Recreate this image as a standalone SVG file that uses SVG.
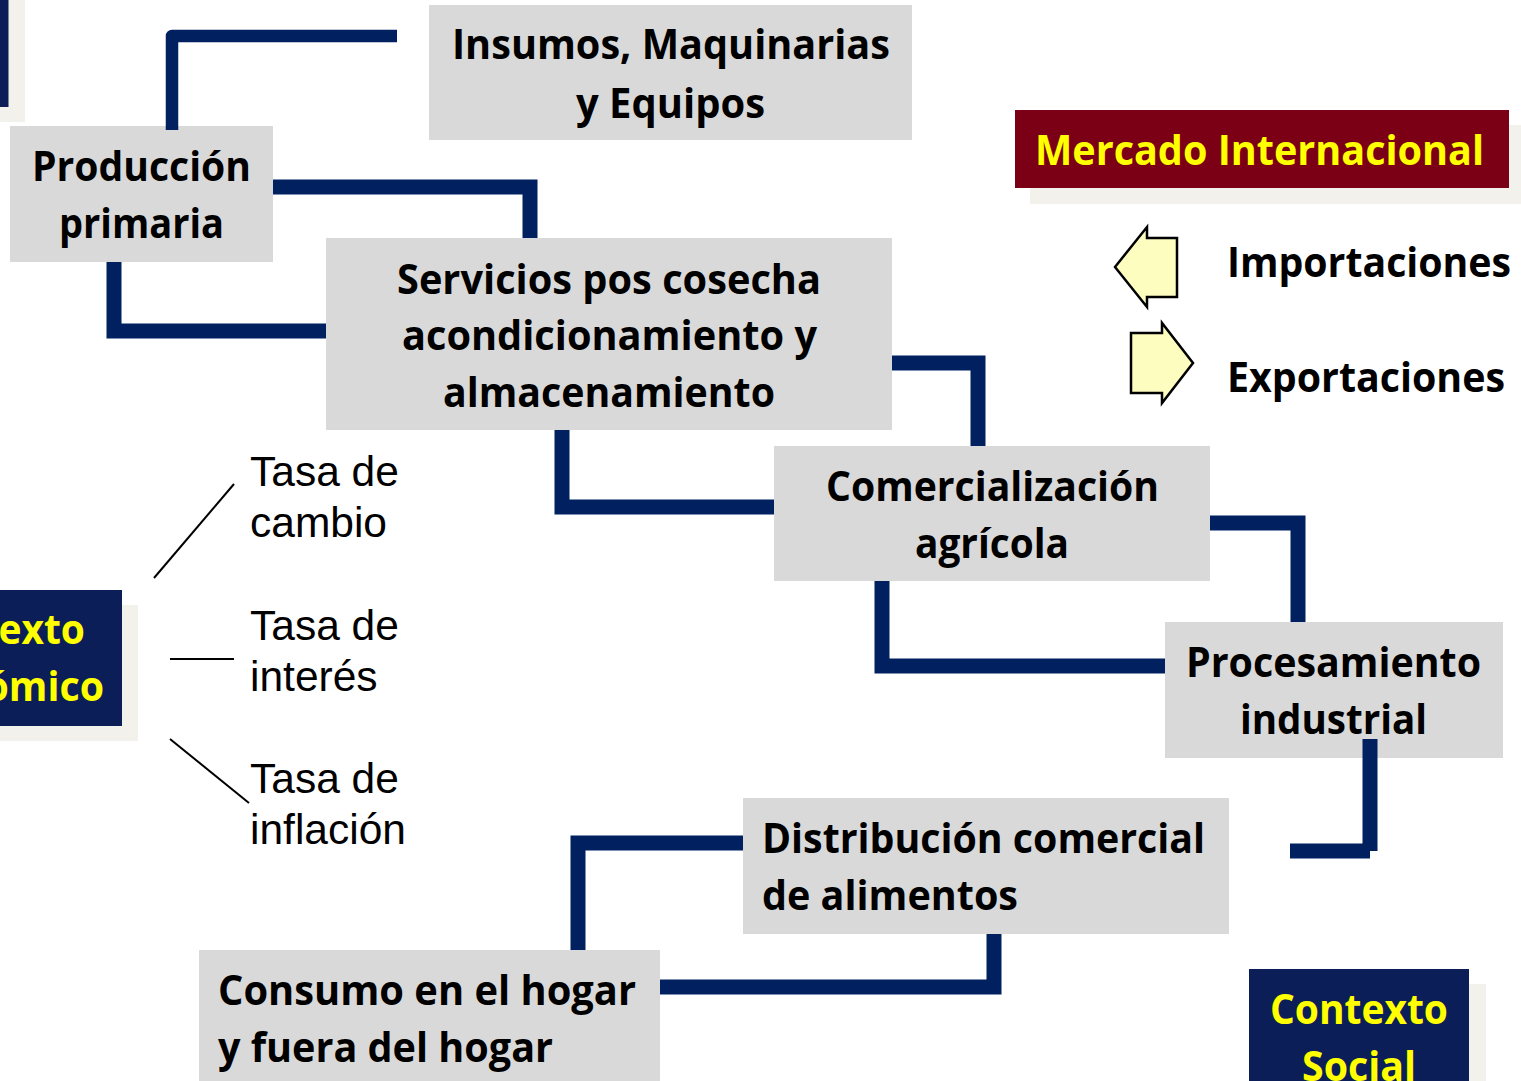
<svg xmlns="http://www.w3.org/2000/svg" width="1521" height="1081" viewBox="0 0 1521 1081">
<style>
.bg{fill:#ffffff}
.box{fill:#d9d9d9}
.navy{fill:#0b1e58}
.shadow{fill:#f2f1ec}
.red{fill:#7b0016}
.b{font-family:"Open Sans","Noto Sans",sans-serif;font-weight:700;font-size:41px;fill:#000}
.yl{fill:#ffff00}
.t{font-family:"Liberation Sans",Arial,sans-serif;font-size:42.5px;fill:#000}
.conn{fill:none;stroke:#002060;stroke-width:15;stroke-linecap:butt;stroke-linejoin:miter}
.thin{fill:none;stroke:#000;stroke-width:2}
.arrow{fill:#fdfdc0;stroke:#000;stroke-width:2.5;stroke-linejoin:miter}
</style>
<rect class="bg" x="0" y="0" width="1521" height="1081"/>

<g id="contexto-top">
  <rect class="shadow" x="-84" y="-5" width="109" height="127"/>
  <rect class="navy" x="-100" y="-20" width="108.5" height="127"/>
</g>

<g id="insumos">
  <rect class="box" x="429" y="5" width="483" height="135"/>
  <text class="b" x="452" y="59" textLength="438" lengthAdjust="spacingAndGlyphs">Insumos, Maquinarias</text>
  <text class="b" x="576" y="118" textLength="189" lengthAdjust="spacingAndGlyphs">y Equipos</text>
</g>

<g id="produccion">
  <rect class="box" x="10" y="126" width="263" height="136"/>
  <text class="b" x="32" y="181" textLength="219" lengthAdjust="spacingAndGlyphs">Producción</text>
  <text class="b" x="59" y="238" textLength="165" lengthAdjust="spacingAndGlyphs">primaria</text>
</g>

<g id="mercado">
  <rect class="shadow" x="1030" y="125" width="495" height="79"/>
  <rect class="red" x="1015" y="110" width="494" height="78"/>
  <text class="b yl" x="1035" y="165" textLength="449" lengthAdjust="spacingAndGlyphs">Mercado Internacional</text>
</g>

<g id="importaciones">
  <polygon class="arrow" points="1115,267 1147,227 1147,238 1177,238 1177,297 1147,297 1147,307"/>
  <text class="b" x="1227" y="277" textLength="284" lengthAdjust="spacingAndGlyphs">Importaciones</text>
</g>

<g id="exportaciones">
  <polygon class="arrow" points="1131,333 1162,333 1162,323 1193,363 1162,403 1162,393 1131,393"/>
  <text class="b" x="1227" y="392" textLength="278" lengthAdjust="spacingAndGlyphs">Exportaciones</text>
</g>

<g id="servicios">
  <rect class="box" x="326" y="238" width="566" height="192"/>
  <text class="b" x="397" y="294" textLength="424" lengthAdjust="spacingAndGlyphs">Servicios pos cosecha</text>
  <text class="b" x="402" y="350" textLength="415" lengthAdjust="spacingAndGlyphs">acondicionamiento y</text>
  <text class="b" x="443" y="407" textLength="332" lengthAdjust="spacingAndGlyphs">almacenamiento</text>
</g>

<g id="comercializacion">
  <rect class="box" x="774" y="446" width="436" height="135"/>
  <text class="b" x="826" y="501" textLength="333" lengthAdjust="spacingAndGlyphs">Comercialización</text>
  <text class="b" x="915" y="558" textLength="154" lengthAdjust="spacingAndGlyphs">agrícola</text>
</g>

<g id="procesamiento">
  <rect class="box" x="1165" y="622" width="338" height="136"/>
  <text class="b" x="1186" y="677" textLength="295" lengthAdjust="spacingAndGlyphs">Procesamiento</text>
  <text class="b" x="1240" y="734" textLength="187" lengthAdjust="spacingAndGlyphs">industrial</text>
</g>

<g id="distribucion">
  <rect class="box" x="743" y="798" width="486" height="136"/>
  <text class="b" x="762" y="853" textLength="443" lengthAdjust="spacingAndGlyphs">Distribución comercial</text>
  <text class="b" x="762" y="910" textLength="256" lengthAdjust="spacingAndGlyphs">de alimentos</text>
</g>

<g id="consumo">
  <rect class="box" x="199" y="950" width="461" height="140"/>
  <text class="b" x="218" y="1005" textLength="418" lengthAdjust="spacingAndGlyphs">Consumo en el hogar</text>
  <text class="b" x="218" y="1062" textLength="335" lengthAdjust="spacingAndGlyphs">y fuera del hogar</text>
</g>

<g id="contexto-economico">
  <rect class="shadow" x="-104" y="605" width="242" height="136"/>
  <rect class="navy" x="-120" y="590" width="242" height="136"/>
  <text class="b yl" x="-93" y="644" textLength="178" lengthAdjust="spacingAndGlyphs">Contexto</text>
  <text class="b yl" x="-108" y="701" textLength="212" lengthAdjust="spacingAndGlyphs">Económico</text>
</g>

<g id="contexto-social">
  <rect class="shadow" x="1265" y="984" width="221" height="110"/>
  <rect class="navy" x="1249" y="969" width="220" height="125"/>
  <text class="b yl" x="1270" y="1024" textLength="178" lengthAdjust="spacingAndGlyphs">Contexto</text>
  <text class="b yl" x="1302" y="1081" textLength="114" lengthAdjust="spacingAndGlyphs">Social</text>
</g>

<g id="tasas">
  <line class="thin" x1="154" y1="578" x2="234" y2="484"/>
  <line class="thin" x1="170" y1="659" x2="234" y2="659"/>
  <line class="thin" x1="170" y1="739" x2="249" y2="803"/>
  <text class="t" x="250" y="486">Tasa de</text>
  <text class="t" x="250" y="537">cambio</text>
  <text class="t" x="250" y="640">Tasa de</text>
  <text class="t" x="250" y="691">interés</text>
  <text class="t" x="250" y="793">Tasa de</text>
  <text class="t" x="250" y="844">inflación</text>
</g>

<g id="connectors">
  <path class="conn" d="M172,130 V36 H397" style="stroke-width:12.5;stroke-linejoin:round"/>
  <path class="conn" d="M273,187 H530 V238"/>
  <path class="conn" d="M114,262 V331 H326"/>
  <path class="conn" d="M892,363 H978 V446"/>
  <path class="conn" d="M562,430 V507 H774"/>
  <path class="conn" d="M1210,523 H1298 V622"/>
  <path class="conn" d="M882,581 V666 H1165"/>
  <path class="conn" d="M1370,739 V851"/>
  <path class="conn" d="M1290,851 H1370"/>
  <path class="conn" d="M743,843 H578 V950"/>
  <path class="conn" d="M994,934 V987 H660"/>
</g>
</svg>
